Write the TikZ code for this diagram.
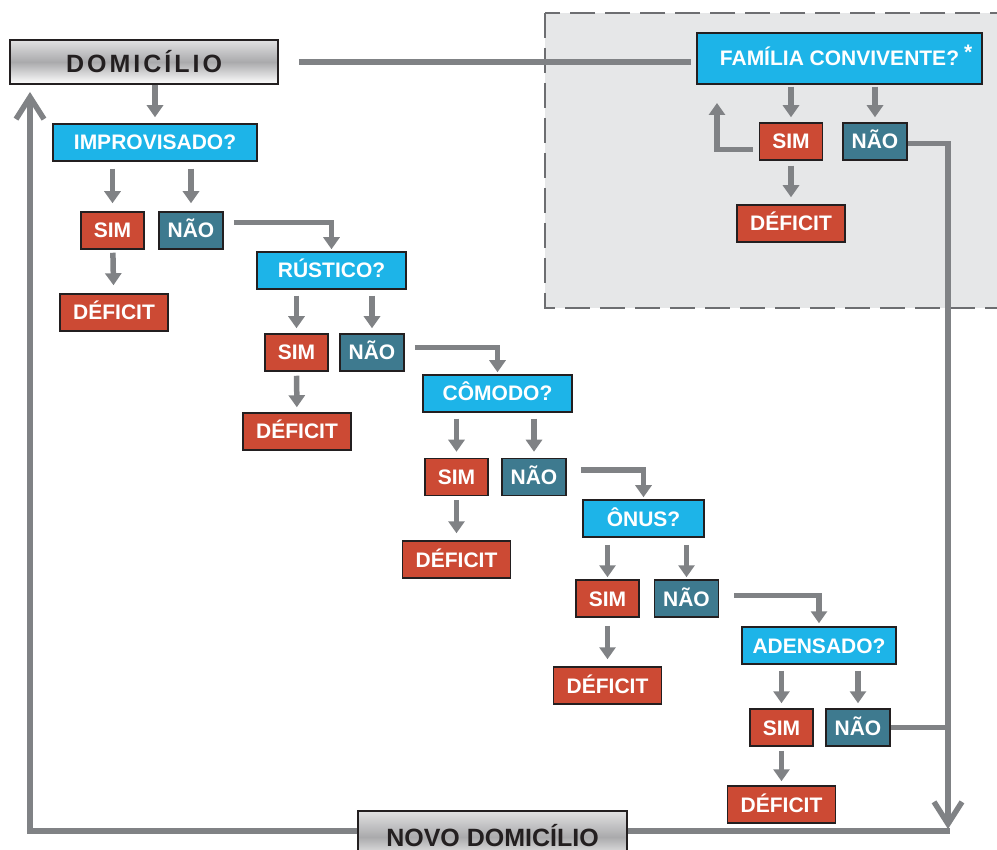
\documentclass[tikz,border=0pt]{standalone}
\usepackage{fontspec}
\setmainfont{Liberation Sans}
\usepackage{tikz}
\usetikzlibrary{arrows.meta,shapes}

\definecolor{ciano}{RGB}{29,180,232}
\definecolor{vermelho}{RGB}{204,74,52}
\definecolor{petroleo}{RGB}{62,122,143}
\definecolor{contorno}{RGB}{35,31,32}
\definecolor{cinza}{RGB}{128,130,133}
\definecolor{fundo}{RGB}{230,231,232}
\definecolor{tracejado}{RGB}{109,110,113}
\definecolor{prata}{RGB}{170,170,172}
\definecolor{prataclara}{RGB}{225,225,226}

\tikzset{
  caixa/.style={draw=contorno, line width=1.5pt, text=white, inner sep=0pt,
    minimum height=37pt, text height=15pt, text depth=0pt,
    font=\fontsize{21}{24}\selectfont\bfseries},
  pergunta/.style={caixa, fill=ciano},
  sim/.style={caixa, fill=vermelho, minimum width=63pt},
  nao/.style={caixa, fill=petroleo, minimum width=64pt},
  deficit/.style={caixa, fill=vermelho, minimum width=108pt},
  domicilio/.style={draw=contorno, line width=1.5pt, text=contorno, inner sep=0pt,
    top color=prataclara, bottom color=white, middle color=prata},
  seta/.style={draw=cinza, line width=5.5pt, -{Triangle[width=16pt,length=12pt]}},
  linha/.style={draw=cinza, line width=5.5pt},
  volta/.style={linha, -{Straight Barb[width=28pt,length=22pt]}}
}

\begin{document}
\begin{tikzpicture}[x=1pt,y=-1pt]
    \useasboundingbox (0,0) rectangle (997,850);
    \clip (0,0) rectangle (997,850);
    % area da familia convivente
    \draw[fill=fundo, draw=tracejado, line width=2.5pt, dash pattern=on 25pt off 10pt] (545,13) rectangle (1010,308);

    \node[domicilio, minimum width=268pt, minimum height=44pt] (dom) at (144,62)
        {\fontsize{25}{28}\selectfont\bfseries\addfontfeature{LetterSpace=12}DOMICÍLIO};
    \node[pergunta, minimum width=285pt, minimum height=51pt] (fam) at (839.5,58.5)
        {FAMÍLIA CONVIVENTE?\rlap{\kern5pt\raisebox{6pt}{*}}};
    \node[sim] (simf) at (791,141.5) {SIM};
    \node[nao] (naof) at (875,141.5) {NÃO};
    \node[deficit] (deff) at (791,223.5) {DÉFICIT};

    \node[pergunta, minimum width=204pt] (imp) at (155,142.5) {IMPROVISADO?};
    \node[sim] (sim1) at (112.5,230.5) {SIM};
    \node[nao] (nao1) at (191,230.5) {NÃO};
    \node[deficit] (def1) at (114,312.5) {DÉFICIT};

    \node[pergunta, minimum width=149pt] (rus) at (331.5,270.5) {RÚSTICO?};
    \node[sim] (sim2) at (296.5,352.5) {SIM};
    \node[nao] (nao2) at (372,352.5) {NÃO};
    \node[deficit] (def2) at (297,431.5) {DÉFICIT};

    \node[pergunta, minimum width=149pt] (com) at (497.5,393.5) {CÔMODO?};
    \node[sim] (sim3) at (456.5,477) {SIM};
    \node[nao] (nao3) at (534,477) {NÃO};
    \node[deficit] (def3) at (456.5,559.5) {DÉFICIT};

    \node[pergunta, minimum width=121pt] (onu) at (643.5,518.5) {ÔNUS?};
    \node[sim] (sim4) at (607.5,598.5) {SIM};
    \node[nao] (nao4) at (686.5,598.5) {NÃO};
    \node[deficit] (def4) at (607.5,685.5) {DÉFICIT};

    \node[pergunta, minimum width=154pt] (ade) at (819,645.5) {ADENSADO?};
    \node[sim] (sim5) at (781.5,727.5) {SIM};
    \node[nao] (nao5) at (858,727.5) {NÃO};
    \node[deficit] (def5) at (781.5,804.5) {DÉFICIT};

    \node[domicilio, minimum width=269pt, minimum height=52pt, text height=18pt, text depth=0pt] (novo) at (492.5,837)
        {\fontsize{25}{28}\selectfont\bfseries NOVO DOMICÍLIO};

    \coordinate (retorno) at (717,103);
    \coordinate (desce) at (948,829);
    \coordinate (sobe) at (30,92);

    \draw[linha, shorten <=20pt, shorten >=5pt] (dom.east) -- (fam.west |- dom.east);
    \draw[seta, shorten >=6pt] (dom.south -| imp) -- (imp);

    \draw[seta, shorten <=2pt, shorten >=5pt] (fam.south -| simf) -- (simf);
    \draw[seta, shorten <=2pt, shorten >=5pt] (fam.south -| naof) -- (naof);
    \draw[seta, shorten <=5pt, shorten >=7pt] (simf) -- (deff);
    \draw[seta] ([xshift=-6pt,yshift=-8pt]simf.west) -| (retorno);
    \draw[volta] ([yshift=-2pt]naof.east) -| (desce);

    \draw[seta, shorten <=7pt, shorten >=8pt] (imp.south -| sim1) -- (sim1);
    \draw[seta, shorten <=7pt, shorten >=8pt] (imp.south -| nao1) -- (nao1);
    \draw[seta, shorten <=3pt, shorten >=8pt] (sim1) -- (def1);
    \draw[seta, shorten >=2pt] ([xshift=10pt,yshift=8pt]nao1.east) -| (rus);

    \draw[seta, shorten <=6pt, shorten >=5pt] (rus.south -| sim2) -- (sim2);
    \draw[seta, shorten <=6pt, shorten >=5pt] (rus.south -| nao2) -- (nao2);
    \draw[seta, shorten <=4pt, shorten >=5pt] (sim2) -- (def2);
    \draw[seta, shorten >=2pt] ([xshift=10pt,yshift=5pt]nao2.east) -| (com);

    \draw[seta, shorten <=6pt, shorten >=6pt] (com.south -| sim3) -- (sim3);
    \draw[seta, shorten <=6pt, shorten >=6pt] (com.south -| nao3) -- (nao3);
    \draw[seta, shorten <=4pt, shorten >=7pt] (sim3) -- (def3);
    \draw[seta, shorten >=2pt] ([xshift=14pt,yshift=7pt]nao3.east) -| (onu);

    \draw[seta, shorten <=7pt, shorten >=2pt] (onu.south -| sim4) -- (sim4);
    \draw[seta, shorten <=7pt, shorten >=2pt] (onu.south -| nao4) -- (nao4);
    \draw[seta, shorten <=8pt, shorten >=7pt] (sim4) -- (def4);
    \draw[seta, shorten >=3pt] ([xshift=15pt,yshift=3pt]nao4.east) -| (ade);

    \draw[seta, shorten <=6pt, shorten >=5pt] (ade.south -| sim5) -- (sim5);
    \draw[seta, shorten <=6pt, shorten >=5pt] (ade.south -| nao5) -- (nao5);
    \draw[seta, shorten <=4pt, shorten >=4pt] (sim5) -- (def5);
    \draw[linha] (nao5.east) -- (nao5.east -| desce);

    \draw[linha] ([yshift=6pt]novo.east) -- ([xshift=2pt,yshift=6pt]novo.east -| desce);
    \draw[volta] ([yshift=6pt]novo.west) -| (sobe);
\end{tikzpicture}
\end{document}
